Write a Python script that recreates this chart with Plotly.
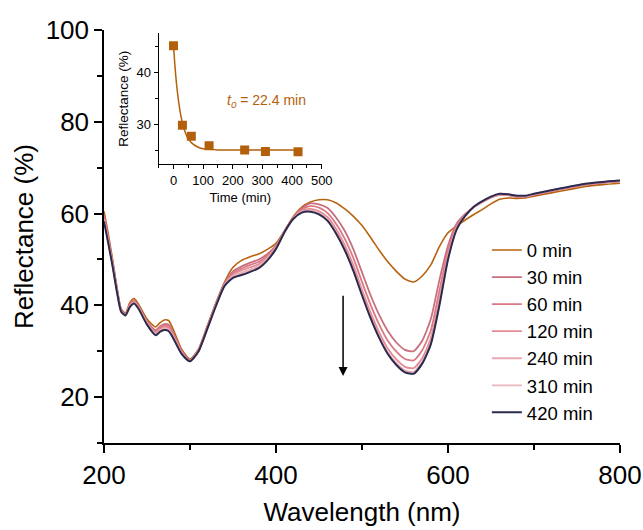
import plotly.graph_objects as go

# ---------------- data ----------------
wavelength = [200, 205, 210, 215, 220, 225, 230, 235, 240, 250, 260, 265, 270, 275, 280, 290,
              300, 310, 320, 330, 340, 350, 360, 370, 380, 390, 400, 410, 420, 430, 440, 450,
              460, 470, 480, 490, 500, 510, 520, 530, 540, 550, 560, 570, 580, 590, 600, 610,
              620, 630, 640, 650, 660, 670, 680, 690, 700, 720, 740, 760, 780, 800]

r_0min = [60.5, 55.5, 50.0, 44.0, 39.2, 38.3, 40.6, 41.5, 40.3, 37.0, 35.3, 36.2, 36.8, 36.7, 35.0, 30.5,
          28.3, 30.5, 35.5, 40.5, 45.0, 48.3, 49.8, 50.6, 51.2, 52.2, 53.5, 56.3, 59.3, 61.4, 62.5, 63.0,
          63.0, 62.3, 61.0, 59.4, 57.4, 54.8, 52.0, 49.5, 47.4, 45.7, 45.1, 46.4, 48.8, 52.8, 55.8, 57.3,
          58.6, 59.8, 60.9, 62.1, 63.1, 63.4, 63.3, 63.4, 63.8, 64.5, 65.2, 65.9, 66.3, 66.6]

r_30min = [59.6, 54.7, 49.4, 43.6, 39.0, 38.1, 40.2, 41.1, 39.9, 36.5, 34.6, 35.4, 35.9, 35.8, 34.2, 30.1,
           28.1, 30.3, 35.2, 40.2, 44.7, 47.4, 48.5, 49.3, 50.0, 51.2, 53.0, 56.2, 59.1, 61.1, 62.2, 62.0,
           61.2, 59.1, 56.2, 52.2, 47.2, 42.2, 37.9, 34.4, 31.9, 30.3, 30.0, 32.3, 37.0, 45.5, 53.0, 57.8,
           59.9, 61.4, 62.5, 63.5, 64.1, 64.0, 63.7, 63.7, 64.1, 64.9, 65.6, 66.3, 66.7, 67.0]

r_60min = [59.3, 54.4, 49.2, 43.5, 38.9, 38.0, 40.0, 40.9, 39.7, 36.3, 34.3, 35.1, 35.6, 35.4, 33.9, 30.0,
           28.0, 30.2, 35.1, 40.1, 44.6, 47.0, 48.0, 48.8, 49.5, 50.9, 52.8, 56.1, 59.0, 60.9, 61.6, 61.3,
           60.1, 57.7, 54.5, 50.3, 45.1, 40.1, 35.8, 32.3, 29.9, 28.3, 28.0, 30.2, 34.5, 43.2, 52.0, 57.3,
           59.7, 61.4, 62.5, 63.5, 64.1, 64.0, 63.7, 63.7, 64.1, 64.9, 65.6, 66.3, 66.7, 67.0]

r_120min = [59.0, 54.1, 48.9, 43.3, 38.8, 37.9, 39.9, 40.7, 39.6, 36.2, 34.0, 34.8, 35.3, 35.1, 33.6, 29.8,
            27.9, 30.1, 35.0, 40.0, 44.4, 46.7, 47.6, 48.3, 49.0, 50.5, 52.7, 56.1, 58.9, 60.6, 61.0, 60.5,
            59.2, 56.6, 53.1, 48.7, 43.4, 38.4, 34.1, 30.6, 28.2, 26.6, 26.3, 28.5, 32.8, 41.4, 51.0, 56.9,
            59.6, 61.4, 62.6, 63.6, 64.2, 64.1, 63.8, 63.8, 64.2, 65.0, 65.7, 66.4, 66.8, 67.1]

r_240min = [58.6, 53.8, 48.7, 43.1, 38.7, 37.9, 39.7, 40.6, 39.5, 36.0, 33.8, 34.5, 34.9, 34.7, 33.3, 29.6,
            27.9, 30.1, 34.9, 39.9, 44.3, 46.3, 47.1, 47.8, 48.6, 50.2, 52.5, 56.0, 58.9, 60.4, 60.7, 60.1,
            58.8, 56.0, 52.4, 47.9, 42.6, 37.6, 33.3, 29.8, 27.4, 25.8, 25.5, 27.7, 32.0, 40.6, 50.5, 56.7,
            59.5, 61.5, 62.6, 63.6, 64.2, 64.1, 63.8, 63.8, 64.2, 65.0, 65.7, 66.4, 66.8, 67.1]

r_310min = [58.5, 53.6, 48.6, 43.1, 38.6, 37.8, 39.7, 40.5, 39.4, 35.9, 33.6, 34.3, 34.8, 34.6, 33.1, 29.6,
            27.8, 30.0, 34.8, 39.8, 44.3, 46.2, 46.8, 47.5, 48.3, 50.0, 52.4, 56.0, 58.8, 60.3, 60.5, 59.9,
            58.5, 55.7, 52.1, 47.6, 42.3, 37.3, 33.0, 29.5, 27.1, 25.5, 25.2, 27.4, 31.7, 40.2, 50.2, 56.6,
            59.5, 61.5, 62.7, 63.7, 64.3, 64.2, 63.9, 63.9, 64.3, 65.1, 65.8, 66.5, 66.9, 67.2]

r_420min = [58.3, 53.5, 48.5, 43.0, 38.6, 37.8, 39.6, 40.4, 39.3, 35.8, 33.5, 34.2, 34.6, 34.4, 33.0, 29.5,
            27.8, 30.0, 34.8, 39.8, 44.2, 46.0, 46.6, 47.3, 48.1, 49.8, 52.3, 56.0, 58.8, 60.2, 60.4, 59.8,
            58.4, 55.6, 52.0, 47.5, 42.2, 37.2, 32.9, 29.4, 27.0, 25.4, 25.1, 27.3, 31.5, 40.0, 50.0, 56.5,
            59.5, 61.5, 62.7, 63.7, 64.3, 64.2, 63.9, 63.9, 64.3, 65.1, 65.8, 66.5, 66.9, 67.2]

series_names = ["0 min", "30 min", "60 min", "120 min", "240 min", "310 min", "420 min"]
series_values = [r_0min, r_30min, r_60min, r_120min, r_240min, r_310min, r_420min]
series_colors = ["#b8620e", "#c86f7e", "#da7884", "#e38b95", "#e8a9b0", "#ebb6bc", "#2b2a4e"]
series_widths = [1.6, 1.8, 1.8, 1.8, 1.8, 1.8, 2.0]

# inset: minimum reflectance vs time
inset_time = [0, 30, 60, 120, 240, 310, 420]
inset_refl = [45.1, 29.9, 27.8, 26.0, 25.2, 24.9, 24.85]

# inset: fitted exponential (t0 = 22.4 min)
fit_time = [0, 5, 10, 15, 20, 25, 30, 40, 50, 60, 80, 100, 120, 150, 200, 250, 300, 350, 420]
fit_refl = [45.1, 41.1, 37.9, 35.4, 33.35, 31.7, 30.4, 28.5, 27.3, 26.6, 25.8, 25.4, 25.3, 25.2,
            25.2, 25.2, 25.2, 25.2, 25.2]

FONT = "Liberation Sans, Arial, sans-serif"
ORANGE = "#b35f0c"

fig = go.Figure()

for name, vals, col, w in zip(series_names, series_values, series_colors, series_widths):
    fig.add_trace(go.Scatter(x=wavelength, y=vals, mode="lines", name=name,
                             line=dict(color=col, width=w, shape="spline", smoothing=0.6)))

fig.add_trace(go.Scatter(x=fit_time, y=fit_refl, mode="lines", showlegend=False,
                         line=dict(color=ORANGE, width=1.5, shape="spline", smoothing=0.8),
                         xaxis="x2", yaxis="y2"))
fig.add_trace(go.Scatter(x=inset_time, y=inset_refl, mode="markers", showlegend=False,
                         marker=dict(symbol="square", size=9, color=ORANGE),
                         xaxis="x2", yaxis="y2"))

axis_common = dict(showline=True, linecolor="black", linewidth=1.5, ticks="outside",
                   tickcolor="black", tickwidth=1.5, showgrid=False, zeroline=False,
                   mirror=False, automargin=False)

fig.update_layout(
    width=643, height=530,
    margin=dict(l=104, r=23, t=30, b=87),
    paper_bgcolor="white", plot_bgcolor="white",
    font=dict(family=FONT, color="black", size=26),
    xaxis=dict(**axis_common, range=[200, 800], tick0=200, dtick=200, ticklen=8,
               minor=dict(dtick=100, ticklen=5, tickcolor="black", tickwidth=1.5, ticks="outside"),
               tickfont=dict(size=26),
               title=dict(text="Wavelength (nm)", font=dict(size=26), standoff=14)),
    yaxis=dict(**axis_common, range=[10, 100], tick0=20, dtick=20, ticklen=8,
               minor=dict(dtick=10, ticklen=5, tickcolor="black", tickwidth=1.5, ticks="outside"),
               tickfont=dict(size=26),
               title=dict(text="Reflectance (%)", font=dict(size=26), standoff=5)),
    xaxis2=dict(showline=True, linecolor="black", linewidth=1.2, ticks="outside",
                tickcolor="black", tickwidth=1.2, ticklen=4, showgrid=False, zeroline=False,
                automargin=False,
                domain=[0.106, 0.422], anchor="y2", range=[-50, 500], tick0=0, dtick=100,
                minor=dict(dtick=50, ticklen=2.5, tickcolor="black", tickwidth=1.2, ticks="outside"),
                tickfont=dict(size=13),
                title=dict(text="Time (min)", font=dict(size=13), standoff=6)),
    yaxis2=dict(showline=True, linecolor="black", linewidth=1.2, ticks="outside",
                tickcolor="black", tickwidth=1.2, ticklen=4, showgrid=False, zeroline=False,
                automargin=False,
                domain=[0.6755, 0.992], anchor="x2", range=[22.5, 47.5], tick0=30, dtick=10,
                minor=dict(dtick=5, ticklen=2.5, tickcolor="black", tickwidth=1.2, ticks="outside"),
                tickfont=dict(size=13),
                title=dict(text="Reflectance (%)", font=dict(size=13.5), standoff=4)),
    legend=dict(x=0.742, y=0.512, xanchor="left", yanchor="top",
                font=dict(size=18.5, family=FONT), bgcolor="rgba(0,0,0,0)",
                borderwidth=0, tracegroupgap=0),
    showlegend=True,
)

# downward arrow indicating decrease with time
fig.add_annotation(x=478, y=24.6, ax=478, ay=42.4, xref="x", yref="y", axref="x", ayref="y",
                   text="", showarrow=True, arrowhead=2, arrowsize=1.2, arrowwidth=1.5,
                   arrowcolor="black")

# time constant label in inset
fig.add_annotation(x=174, y=34.5, xref="x2", yref="y2", xanchor="left", yanchor="middle",
                   text="<i>t</i><sub><i>0</i></sub> = 22.4 min", showarrow=False,
                   font=dict(size=14, color=ORANGE, family=FONT))

fig.write_html("out.html")
